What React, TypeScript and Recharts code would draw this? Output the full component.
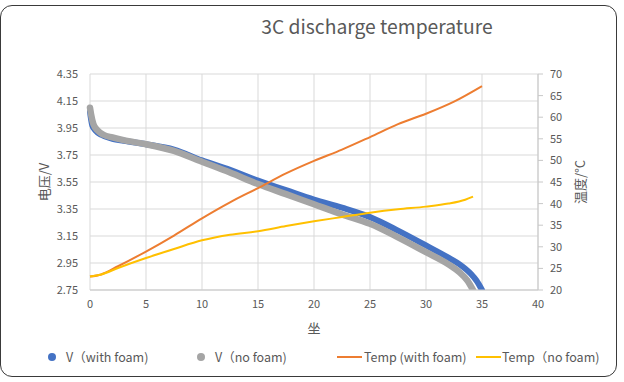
import React from 'react';
import { ComposedChart, Line, XAxis, YAxis, CartesianGrid, Legend } from 'recharts';

const vWithFoam = [
  { x: 0, v: 4.07 }, { x: 0.2, v: 3.97 }, { x: 0.5, v: 3.93 }, { x: 1, v: 3.9 }, { x: 2, v: 3.87 },
  { x: 3, v: 3.855 }, { x: 5, v: 3.83 }, { x: 7.5, v: 3.79 }, { x: 10, v: 3.71 }, { x: 12.5, v: 3.64 },
  { x: 15, v: 3.56 }, { x: 17.5, v: 3.49 }, { x: 20, v: 3.42 }, { x: 22.5, v: 3.36 }, { x: 25, v: 3.29 },
  { x: 27.5, v: 3.19 }, { x: 30, v: 3.08 }, { x: 32, v: 2.99 }, { x: 33, v: 2.94 }, { x: 34, v: 2.87 },
  { x: 34.5, v: 2.82 }, { x: 35, v: 2.75 },
];

const vNoFoam = [
  { x: 0, v: 4.1 }, { x: 0.1, v: 4.05 }, { x: 0.3, v: 3.98 }, { x: 0.7, v: 3.93 }, { x: 1.2, v: 3.9 },
  { x: 2, v: 3.88 }, { x: 3, v: 3.86 }, { x: 5, v: 3.83 }, { x: 7.5, v: 3.78 }, { x: 10, v: 3.7 },
  { x: 12.5, v: 3.62 }, { x: 15, v: 3.535 }, { x: 17.5, v: 3.46 }, { x: 20, v: 3.385 }, { x: 22.5, v: 3.31 },
  { x: 25, v: 3.24 }, { x: 27.5, v: 3.14 }, { x: 30, v: 3.03 }, { x: 32, v: 2.94 }, { x: 33, v: 2.88 },
  { x: 33.7, v: 2.82 }, { x: 34.2, v: 2.75 },
];

const tempWithFoam = [
  { x: 0, t: 23.1 }, { x: 1, t: 23.6 }, { x: 2.5, t: 25.5 }, { x: 5, t: 28.9 }, { x: 7.5, t: 32.6 },
  { x: 10, t: 36.6 }, { x: 12.5, t: 40.3 }, { x: 15, t: 43.6 }, { x: 17.5, t: 47.0 }, { x: 20, t: 49.9 },
  { x: 22.5, t: 52.5 }, { x: 25, t: 55.4 }, { x: 27.5, t: 58.4 }, { x: 30, t: 60.8 }, { x: 32.5, t: 63.6 },
  { x: 35, t: 67.2 },
];

const tempNoFoam = [
  { x: 0, t: 23.1 }, { x: 1, t: 23.6 }, { x: 2.5, t: 25.1 }, { x: 5, t: 27.4 }, { x: 7.5, t: 29.5 },
  { x: 10, t: 31.5 }, { x: 12.5, t: 32.8 }, { x: 15, t: 33.6 }, { x: 17.5, t: 34.8 }, { x: 20, t: 35.9 },
  { x: 22.5, t: 36.9 }, { x: 25, t: 37.9 }, { x: 27.5, t: 38.7 }, { x: 30, t: 39.3 }, { x: 32, t: 40.0 },
  { x: 33.5, t: 40.9 }, { x: 34.2, t: 41.6 },
];

const xTicks = [0, 5, 10, 15, 20, 25, 30, 35, 40];
const voltTicks = [2.75, 2.95, 3.15, 3.35, 3.55, 3.75, 3.95, 4.15, 4.35];
const tempTicks = [20, 25, 30, 35, 40, 45, 50, 55, 60, 65, 70];

const title = '3C discharge temperature';
const xLabel = '坐';
const leftLabel = '电压/V';
const rightLabel = '温度/°C';

const legendItems = [
  { name: 'V（with foam)', color: '#4472C4', kind: 'dot', iconX: 52, textX: 66 },
  { name: 'V（no foam)', color: '#A5A5A5', kind: 'dot', iconX: 201, textX: 215 },
  { name: 'Temp (with foam)', color: '#ED7D31', kind: 'line', iconX: 337, textX: 364 },
  { name: 'Temp（no foam)', color: '#FFC000', kind: 'line', iconX: 476, textX: 502 },
];

const FONT = '"Noto Sans CJK SC", "Noto Sans", sans-serif';
const TXT = '#595959';

const renderLegend = () => (
  <div style={{ position: 'relative', width: 624, height: 20, fontFamily: FONT, fontSize: 12.5, color: TXT }}>
    {legendItems.map((it) => (
      <React.Fragment key={it.name}>
        {it.kind === 'dot' ? (
          <span style={{ position: 'absolute', left: it.iconX - 4, top: 6, width: 8, height: 8, borderRadius: 4, background: it.color }} />
        ) : (
          <span style={{ position: 'absolute', left: it.iconX, top: 9, width: 25, height: 2, background: it.color }} />
        )}
        <span style={{ position: 'absolute', left: it.textX, top: 0, lineHeight: '20px', whiteSpace: 'nowrap' }}>{it.name}</span>
      </React.Fragment>
    ))}
  </div>
);

const LeftLabel = (props: any) => {
  const vb = props.viewBox;
  const cx = 43;
  const cy = vb.y + vb.height / 2;
  return (
    <text x={cx} y={cy} transform={`rotate(-90, ${cx}, ${cy})`} textAnchor="middle" dominantBaseline="central" fill={TXT} fontSize={13} fontFamily={FONT}>
      {leftLabel}
    </text>
  );
};

const RightLabel = (props: any) => {
  const vb = props.viewBox;
  const cx = 579;
  const cy = vb.y + vb.height / 2;
  return (
    <text x={cx} y={cy} transform={`rotate(-90, ${cx}, ${cy})`} textAnchor="middle" dominantBaseline="central" fill={TXT} fontSize={13} fontFamily={FONT}>
      {rightLabel}
    </text>
  );
};

const XLabel = (props: any) => {
  const vb = props.viewBox;
  const cx = vb.x + vb.width / 2;
  return (
    <text x={cx} y={327} textAnchor="middle" dominantBaseline="central" fill={TXT} fontSize={13} fontFamily={FONT}>
      {xLabel}
    </text>
  );
};

export default function App() {
  return (
    <div style={{ position: 'absolute', left: 0, top: 0, width: 624, height: 382, background: '#fff', overflow: 'hidden' }}>
      <div style={{ position: 'absolute', left: 0, top: 5, width: 615, height: 370, border: '1.5px solid #3a3a3a', borderRadius: 12 }} />
      <div style={{ position: 'absolute', left: 0, top: 14, width: 754, textAlign: 'center', fontFamily: FONT, fontSize: 19.3, lineHeight: '24px', color: TXT }}>
        {title}
      </div>
      <div style={{ position: 'absolute', left: 0, top: 0 }}>
        <ComposedChart width={624} height={382} margin={{ top: 74, right: 16, bottom: 15, left: 20 }}>
          <CartesianGrid stroke="#d9d9d9" strokeWidth={1} yAxisId="left" />
          <XAxis
            dataKey="x"
            type="number"
            domain={[0, 40]}
            ticks={xTicks}
            height={57}
            tickLine={false}
            axisLine={{ stroke: '#c8c8c8' }}
            tickMargin={4}
            tick={{ fill: TXT, fontSize: 11, fontFamily: FONT }}
            label={<XLabel />}
          />
          <YAxis
            yAxisId="left"
            orientation="left"
            domain={[2.75, 4.35]}
            ticks={voltTicks}
            width={70}
            axisLine={false}
            tickLine={false}
            tickMargin={6}
            tickFormatter={(v: number) => v.toFixed(2)}
            tick={{ fill: TXT, fontSize: 11, fontFamily: FONT }}
            label={<LeftLabel />}
            allowDataOverflow
          />
          <YAxis
            yAxisId="right"
            orientation="right"
            domain={[20, 70]}
            ticks={tempTicks}
            width={70}
            axisLine={{ stroke: '#c8c8c8' }}
            tickLine={{ stroke: '#c8c8c8' }}
            tickSize={5}
            tickMargin={7}
            tick={{ fill: TXT, fontSize: 11, fontFamily: FONT }}
            label={<RightLabel />}
            allowDataOverflow
          />
          <Legend verticalAlign="bottom" content={renderLegend} wrapperStyle={{ left: 0, width: 624 }} />
          <Line
            yAxisId="left"
            data={vWithFoam}
            dataKey="v"
            name="V（with foam)"
            type="monotone"
            stroke="#4472C4"
            strokeWidth={6}
            strokeLinecap="round"
            dot={false}
            isAnimationActive={false}
          />
          <Line
            yAxisId="left"
            data={vNoFoam}
            dataKey="v"
            name="V（no foam)"
            type="monotone"
            stroke="#A5A5A5"
            strokeWidth={6.5}
            strokeLinecap="round"
            dot={false}
            isAnimationActive={false}
          />
          <Line
            yAxisId="right"
            data={tempWithFoam}
            dataKey="t"
            name="Temp (with foam)"
            type="monotone"
            stroke="#ED7D31"
            strokeWidth={2}
            dot={false}
            isAnimationActive={false}
          />
          <Line
            yAxisId="right"
            data={tempNoFoam}
            dataKey="t"
            name="Temp（no foam)"
            type="monotone"
            stroke="#FFC000"
            strokeWidth={2}
            dot={false}
            isAnimationActive={false}
          />
        </ComposedChart>
      </div>
    </div>
  );
}
